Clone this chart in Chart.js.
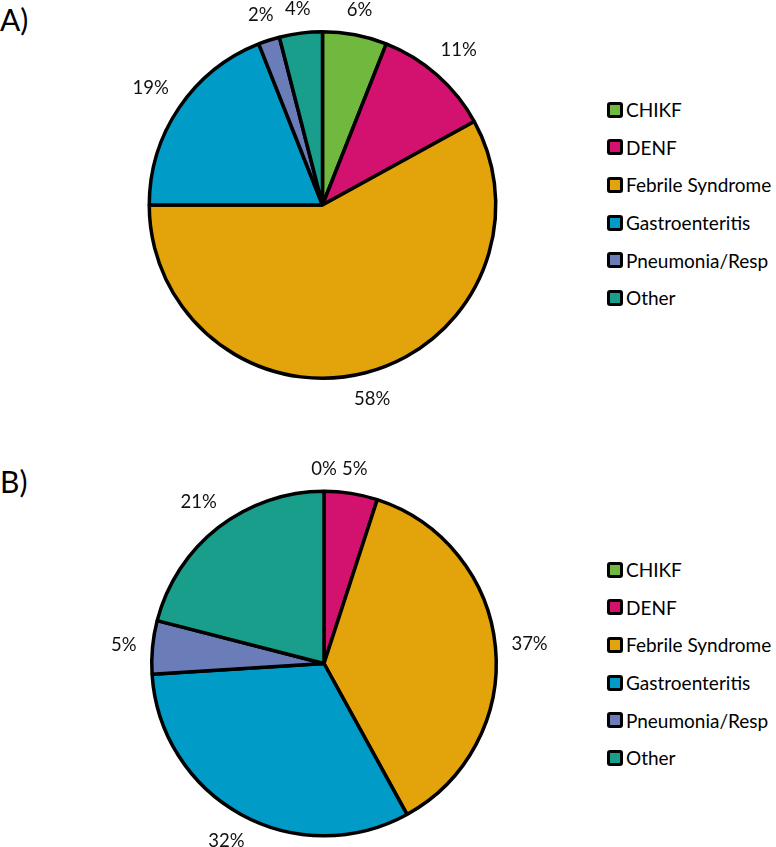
<!DOCTYPE html>
<html>
<head>
<meta charset="utf-8">
<script src="https://cdn.jsdelivr.net/npm/chart.js@4.4.1/dist/chart.umd.min.js"></script>
<style>
    body { margin: 0; background: #fff; font-family: Lato, "Open Sans", sans-serif; }
    #page { position: relative; width: 776px; height: 847px; overflow: hidden; }
    .panel-title { position: absolute; left: 0; font-size: 30px; color: #000; line-height: 1; }
    .chart-box { position: absolute; left: 0; width: 600px; }
    .legend { position: absolute; left: 607px; }
    .legend-row { height: 37.6px; display: flex; align-items: center; font-size: 19px; color: #000; white-space: nowrap; }
    .legend-box { width: 10px; height: 10px; border: 3px solid #000; border-radius: 3px; margin-right: 3px; }
</style>
</head>
<body>
<div id="page">
    <div class="panel-title" style="top:4px">A)</div>
    <div class="panel-title" style="top:466px">B)</div>
    <div class="chart-box" style="top:0;height:430px"><canvas id="chartA"></canvas></div>
    <div class="chart-box" style="top:440px;height:407px"><canvas id="chartB"></canvas></div>
    <div class="legend" id="legendA" style="top:91px"></div>
    <div class="legend" id="legendB" style="top:551px"></div>
</div>

<script>
const categories = ["CHIKF", "DENF", "Febrile Syndrome", "Gastroenteritis", "Pneumonia/Resp", "Other"];
const valuesA = [6, 11, 58, 19, 2, 4];
const valuesB = [0, 5, 37, 32, 5, 21];
const sliceColors = ["#70b83e", "#d2126e", "#e3a30a", "#009cc7", "#6b7db9", "#189e8b"];

// percentage labels outside each slice
const outsideLabels = {
    id: "outsideLabels",
    afterDatasetsDraw(chart) {
        const ctx = chart.ctx;
        const meta = chart.getDatasetMeta(0);
        const values = chart.data.datasets[0].data;
        ctx.save();
        ctx.font = "18.5px Lato";
        ctx.fillStyle = "#111";
        ctx.textAlign = "center";
        ctx.textBaseline = "middle";
        meta.data.forEach((arc, i) => {
            const { x, y, startAngle, endAngle, outerRadius } = arc.getProps(["x", "y", "startAngle", "endAngle", "outerRadius"], true);
            const mid = (startAngle + endAngle) / 2;
            const text = `${values[i]}%`;
            const w = ctx.measureText(text).width;
            const dx = Math.cos(mid), dy = Math.sin(mid);
            const extent = Math.abs(dx) * w / 2 + Math.abs(dy) * 7;
            const r = outerRadius + 1.5 + 14 + extent;
            ctx.fillText(text, x + dx * r, y + dy * r);
        });
        ctx.restore();
    }
};

function makePie(id, values, padding) {
    const ctx = document.getElementById(id).getContext('2d');
    return new Chart(ctx, {
        type: 'pie',
        data: {
            labels: categories,
            datasets: [{
                data: values,
                backgroundColor: sliceColors,
                borderColor: '#000',
                borderWidth: 3.5
            }]
        },
        options: {
            responsive: true,
            maintainAspectRatio: false,
            animation: false,
            layout: { padding },
            plugins: {
                legend: { display: false },
                tooltip: { enabled: false }
            }
        },
        plugins: [outsideLabels]
    });
}

function buildLegend(id) {
    const box = document.getElementById(id);
    categories.forEach((name, i) => {
        const row = `
            <div class="legend-row">
                <span class="legend-box" style="background:${sliceColors[i]}"></span>${name}
            </div>
        `;
        box.insertAdjacentHTML('beforeend', row);
    });
}

makePie("chartA", valuesA, { left: 147.5, top: 30, right: 102.5, bottom: 50 });
makePie("chartB", valuesB, { left: 150, top: 49.5, right: 102, bottom: 9.5 });
buildLegend("legendA");
buildLegend("legendB");
</script>
</body>
</html>
